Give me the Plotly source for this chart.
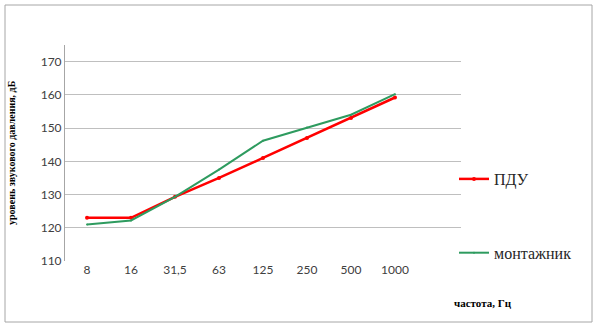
import plotly.graph_objects as go

categories = ["8", "16", "31,5", "63", "125", "250", "500", "1000"]
pdu = [123, 123, 129.3, 135, 141, 147, 153, 159.2]
montazhnik = [121, 122.2, 129.3, 137.5, 146.2, 150.2, 154, 160.2]
y_ticks = [110, 120, 130, 140, 150, 160, 170]

L, R, T, B = 65, 137, 45, 66
W, H = 598, 327
pw, ph = W - L - R, H - T - B

def px_x(px):
    return (px - L) / pw

def px_y(py):
    return (H - B - py) / ph

fig = go.Figure()
fig.add_trace(go.Scatter(
    x=list(range(len(categories))), y=pdu, name="ПДУ", mode="lines+markers",
    line=dict(color="#FF0000", width=2.5), marker=dict(color="#FF0000", size=4),
    legendgroup="a"))
fig.add_trace(go.Scatter(
    x=list(range(len(categories))), y=montazhnik, name="монтажник", mode="lines+markers",
    line=dict(color="#2E9B5F", width=2), marker=dict(color="#2E9B5F", size=2),
    legendgroup="b"))

fig.update_layout(
    width=W, height=H,
    margin=dict(l=L, r=R, t=T, b=B),
    paper_bgcolor="white", plot_bgcolor="white",
    showlegend=True,
    legend=dict(x=px_x(454), y=px_y(162), xanchor="left", yanchor="top",
                font=dict(family="Liberation Serif", size=16, color="#262626"),
                tracegroupgap=50, itemwidth=30, bgcolor="rgba(0,0,0,0)"),
    xaxis=dict(tickmode="array", tickvals=list(range(len(categories))), ticktext=categories,
               range=[-0.5, 8.5], showgrid=False, zeroline=False,
               showline=False, ticks="",
               tickfont=dict(family="Lato", size=12, color="#404040")),
    yaxis=dict(range=[110, 175], tickvals=y_ticks, showgrid=True, gridcolor="#BFBFBF",
               gridwidth=1, zeroline=False, showline=True, linecolor="#A6A6A6",
               linewidth=1, ticks="", ticklen=0,
               tickfont=dict(family="Lato", size=12, color="#404040")),
    shapes=[
        dict(type="rect", xref="paper", yref="paper",
             x0=px_x(5), x1=px_x(592), y0=px_y(322), y1=px_y(5),
             line=dict(color="#A6A6A6", width=1), fillcolor="rgba(0,0,0,0)", layer="below"),
    ],
    annotations=[
        dict(text="<b>частота, Гц</b>", xref="paper", yref="paper",
             x=px_x(483), y=px_y(303), xanchor="center", yanchor="middle", showarrow=False,
             font=dict(family="Liberation Serif", size=11, color="#000000")),
        dict(text="<b>уровень звукового давления, дБ</b>", xref="paper", yref="paper",
             x=px_x(11), y=px_y(153), xanchor="center", yanchor="middle", showarrow=False,
             textangle=-90,
             font=dict(family="Liberation Serif", size=10, color="#000000")),
    ],
)

fig.write_html("out.html")
